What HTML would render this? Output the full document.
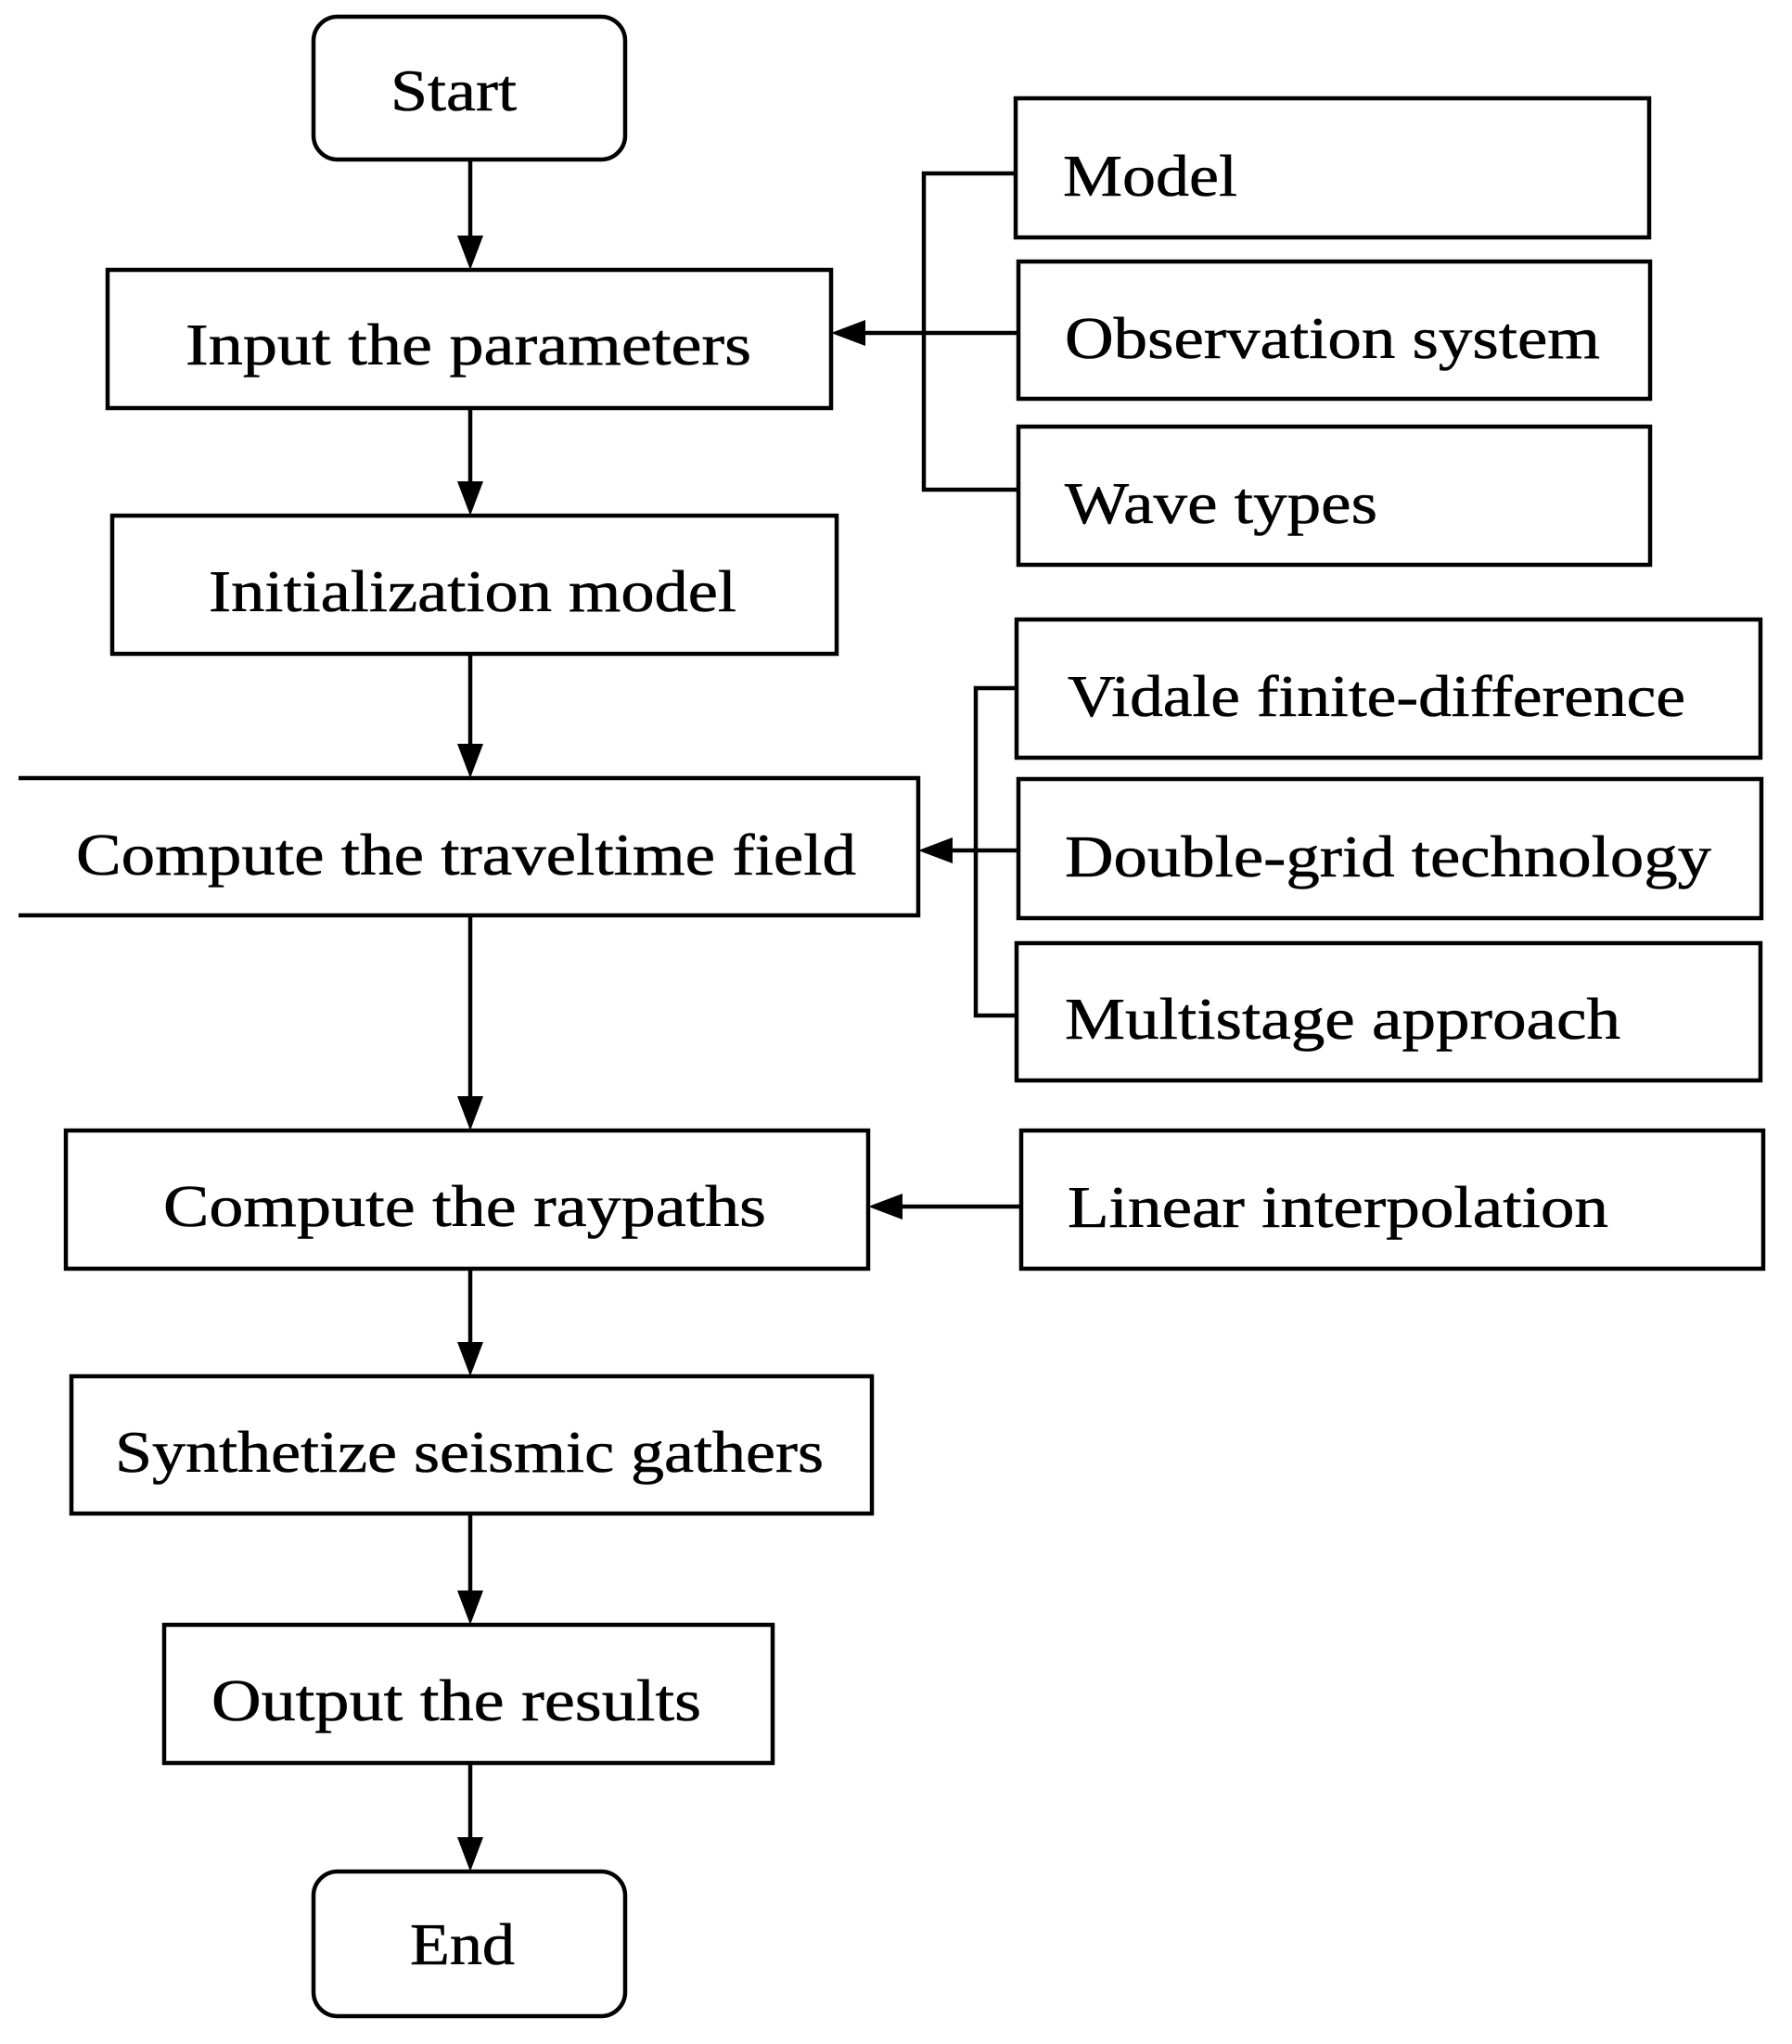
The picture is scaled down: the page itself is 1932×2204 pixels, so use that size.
<!DOCTYPE html>
<html><head><style>html,body{margin:0;padding:0;background:#fff}svg{display:block}</style></head>
<body>
<svg width="1932" height="2204" viewBox="0 0 1932 2204" xmlns="http://www.w3.org/2000/svg">
<g fill="none" stroke="#000" stroke-width="4.5">
<rect x="338" y="18" width="336" height="154" rx="26"/>
<rect x="116" y="291" width="780" height="149"/>
<rect x="121" y="556" width="781" height="149"/>
<path d="M20 839 H990 V987 H20"/>
<rect x="71" y="1219" width="865" height="149"/>
<rect x="77" y="1484" width="863" height="148"/>
<rect x="177" y="1752" width="656" height="149"/>
<rect x="338" y="2018" width="336" height="156" rx="26"/>
<rect x="1095" y="106" width="683" height="150"/>
<rect x="1098" y="282" width="681" height="148"/>
<rect x="1098" y="460" width="681" height="149"/>
<rect x="1096" y="668" width="802" height="149"/>
<rect x="1098" y="840" width="801" height="150"/>
<rect x="1096" y="1017" width="802" height="148"/>
<rect x="1101" y="1219" width="800" height="149"/>
<path d="M507 172 V258 M507 440 V523 M507 705 V806 M507 987 V1186 M507 1368 V1451 M507 1632 V1719 M507 1901 V1985"/>
<path d="M1095 187 H996 V528 H1098 M1098 359 H925"/>
<path d="M1096 742 H1052 V1095 H1096 M1098 917 H1020"/>
<path d="M1101 1301 H965"/>
</g>
<g fill="#000">
<path d="M493 254 L521 254 L507 291 Z M493 519 L521 519 L507 556 Z M493 802 L521 802 L507 839 Z M493 1182 L521 1182 L507 1219 Z M493 1447 L521 1447 L507 1484 Z M493 1715 L521 1715 L507 1752 Z M493 1981 L521 1981 L507 2018 Z"/>
<path d="M896 359 L933 345 L933 373 Z M990 917 L1027 903 L1027 931 Z M936 1301 L973 1287 L973 1315 Z"/>
</g>
<g font-family="Liberation Serif, serif" font-size="64" fill="#000" stroke="#000" stroke-width="0.6">
<text x="421" y="119" textLength="136" lengthAdjust="spacingAndGlyphs">Start</text>
<text x="200" y="393" textLength="610" lengthAdjust="spacingAndGlyphs">Input the parameters</text>
<text x="225" y="659" textLength="569" lengthAdjust="spacingAndGlyphs">Initialization model</text>
<text x="82" y="943" textLength="841" lengthAdjust="spacingAndGlyphs">Compute the traveltime field</text>
<text x="176" y="1322" textLength="650" lengthAdjust="spacingAndGlyphs">Compute the raypaths</text>
<text x="124" y="1587" textLength="764" lengthAdjust="spacingAndGlyphs">Synthetize seismic gathers</text>
<text x="228" y="1855" textLength="528" lengthAdjust="spacingAndGlyphs">Output the results</text>
<text x="442" y="2118" textLength="113" lengthAdjust="spacingAndGlyphs">End</text>
<text x="1146" y="211" textLength="188" lengthAdjust="spacingAndGlyphs">Model</text>
<text x="1148" y="386" textLength="577" lengthAdjust="spacingAndGlyphs">Observation system</text>
<text x="1148" y="564" textLength="337" lengthAdjust="spacingAndGlyphs">Wave types</text>
<text x="1151" y="772" textLength="666" lengthAdjust="spacingAndGlyphs">Vidale finite-difference</text>
<text x="1148" y="945" textLength="697" lengthAdjust="spacingAndGlyphs">Double-grid technology</text>
<text x="1148" y="1120" textLength="599" lengthAdjust="spacingAndGlyphs">Multistage approach</text>
<text x="1151" y="1323" textLength="583" lengthAdjust="spacingAndGlyphs">Linear interpolation</text>
</g>
</svg>
</body></html>
